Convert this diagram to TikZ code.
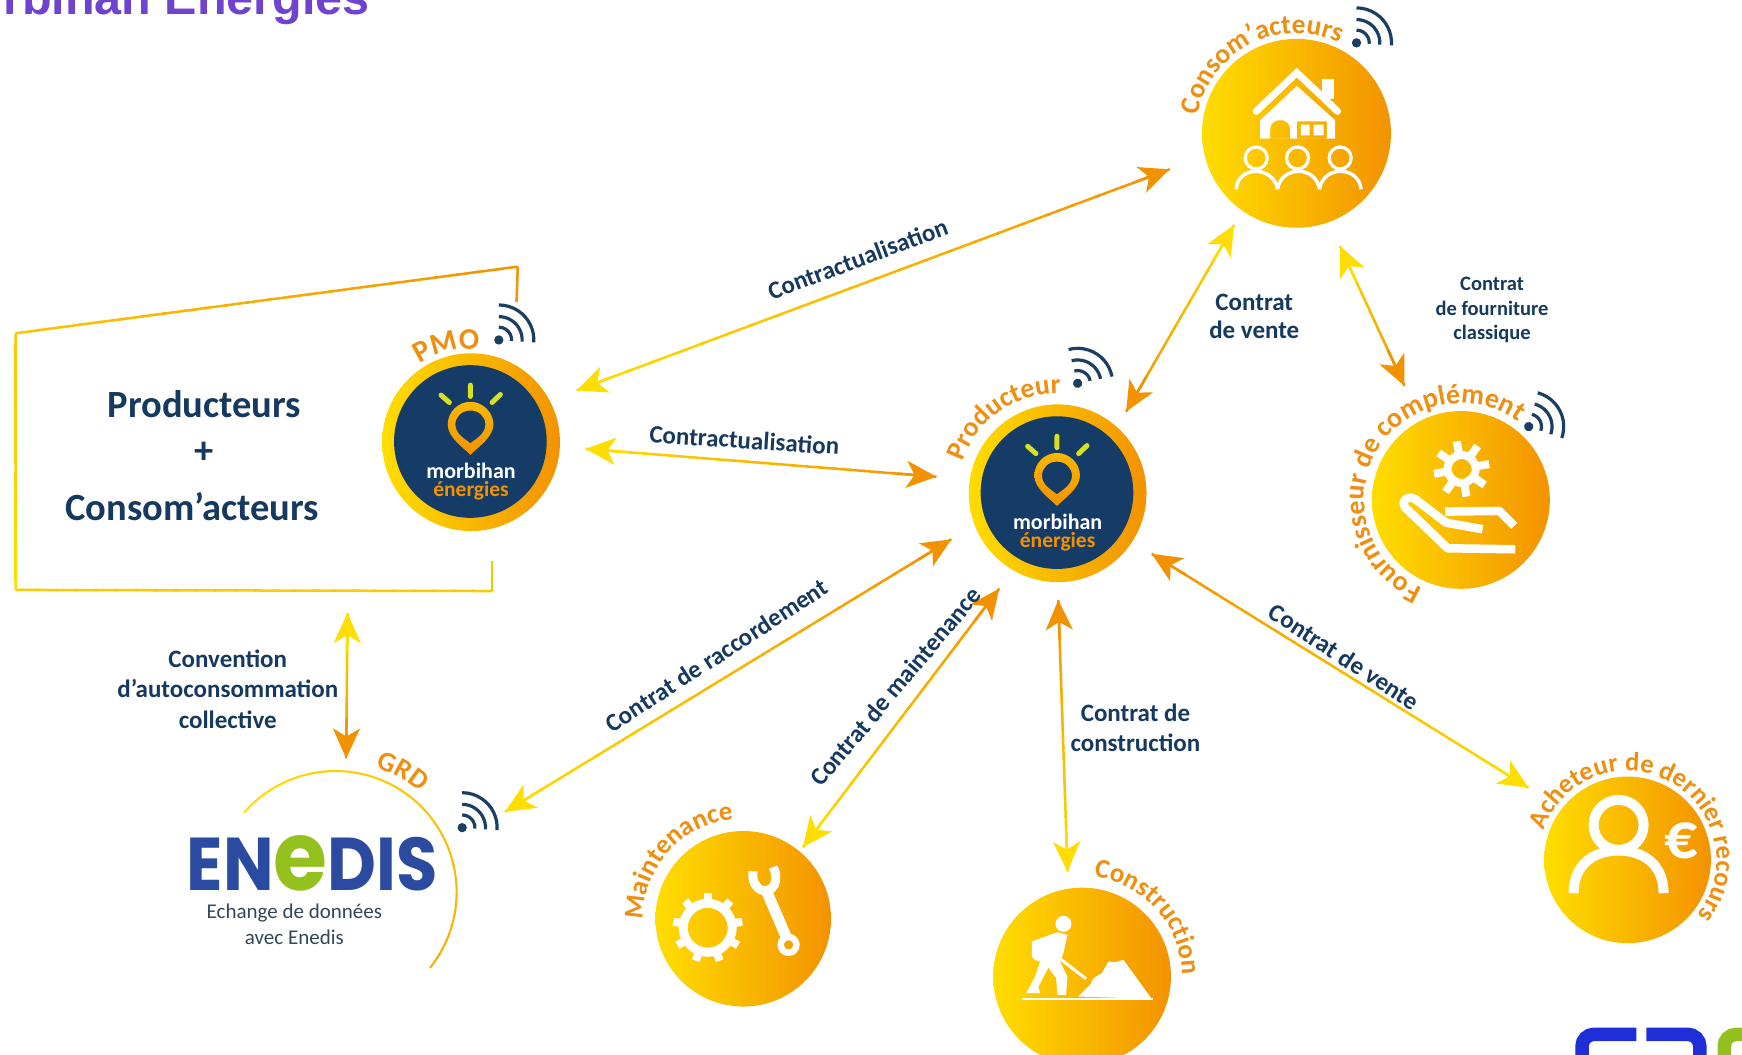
\documentclass[tikz,border=0pt]{standalone}
\usepackage{fontspec}
\usepackage{graphicx}
\setmainfont{Carlito}
\newfontfamily\titlefont{Liberation Sans}
\newfontfamily\logofont{Poppins}
\usetikzlibrary{calc,arrows.meta,decorations.text}
\definecolor{gyellow}{HTML}{FFDD00}
\definecolor{gorange}{HTML}{F39200}
\definecolor{navy}{HTML}{16395F}
\definecolor{logonavy}{HTML}{143C66}
\definecolor{labelorange}{HTML}{EE8F12}
\definecolor{wificol}{HTML}{1B3F63}
\definecolor{raycol}{HTML}{D9E021}
\definecolor{titlepurple}{HTML}{6F42D0}
\definecolor{enblue}{HTML}{2A4B9F}
\definecolor{engreen}{HTML}{95C11F}
\definecolor{logoblue}{HTML}{1F2FD8}
\definecolor{logogreen}{HTML}{93C01F}
\definecolor{greytext}{HTML}{33475B}
\tikzset{
  goldcircle/.style={circle,inner sep=0pt,outer sep=0pt,left color=gyellow,right color=gorange,draw=none},
  ghost/.style={circle,inner sep=0pt,outer sep=0pt,draw=none},
  headtip/.style={-{Stealth[length=30pt,width=27pt,inset=8pt]},line width=2.5pt},
  navylabel/.style={text=navy,font=\fontsize{25}{27.5}\selectfont\bfseries,align=center,inner sep=0pt},
  biglabel/.style={text=navy,font=\fontsize{38.5}{42}\selectfont\bfseries,inner sep=0pt},
}
\newcommand\circlenode[4]{\node[goldcircle,minimum size=2*#4*1.111pt] (#1) at (#2,-#3) {};}
\newcommand\gradline[4]{\foreach \gi in {0,...,23}{%
  \pgfmathsetmacro\gp{100-(\gi+.5)*100/24}%
  \pgfmathsetmacro\ga{\gi/24}%
  \pgfmathsetmacro\gb{min(1,(\gi+1.15)/24)}%
  \draw[line width=2.5pt,color={#3!\gp!#4}] ($(#1)!\ga!(#2)$) -- ($(#1)!\gb!(#2)$);}}
\newcommand\gradarrow[6]{%
  \coordinate (gS) at ($(#1)!#3pt!(#2)$);
  \coordinate (gE) at ($(#2)!#4pt!(#1)$);
  \gradline{gS}{gE}{#5}{#6}
  \draw[headtip,#5] ($(gS)!40pt!(gE)$) -- (gS);
  \draw[headtip,#6] ($(gE)!40pt!(gS)$) -- (gE);}
\newcommand\wifiicon[3]{\begin{scope}[shift={(#1,-#2)},rotate=#3]
  \fill[wificol] (0,0) circle[radius=4.2];
  \foreach \wr in {11.5,21,31.5}{\draw[wificol,line width=3.2pt] (-4:\wr) arc[start angle=-4,end angle=90,radius=\wr];}
  \end{scope}}
\newcommand\curvedlabel[6][27]{\path[decorate,decoration={text along path,text color=labelorange,text align=center,text={|\fontsize{#1}{#1}\selectfont\bfseries|#6}}]
  ($(#2)+(#4+#5:#3)$) arc[start angle=#4+#5,end angle=#4-#5,radius=#3];}
\newcommand\gearicon[7]{\begin{scope}[shift={(#1)},x=1pt,y=1pt,xshift=#2pt,yshift=#3pt]
  \draw[white,line width=#5pt] (0,0) circle[radius=#4];
  \foreach \gk in {1,...,#6}{\draw[white,line width=8pt] (\gk*360/#6+10:#4) -- (\gk*360/#6+10:#7);}
  \end{scope}}
\newcommand\morbilogo[1]{\begin{scope}[shift={(#1)}]\begin{scope}[x=1pt/3,y=-1pt/3,shift={(-325,-375)}]
  \fill[logonavy] (323,373) circle[radius=229];
  \draw[raycol,line width=5pt,line cap=round] (323,204) -- (323,238) (235,234) -- (260,256) (413,232) -- (388,256);
  \shade[top color=gyellow!50!gorange,bottom color=gorange,even odd rule]
    (323,413) .. controls (300,390) and (255,360) .. (255,322) .. controls (255,285) and (286,254) .. (323,254) .. controls (360,254) and (392,285) .. (392,322) .. controls (392,360) and (346,390) .. (323,413) -- cycle
    (323,378) .. controls (306,365) and (278,350) .. (278,322) .. controls (278,298) and (298,280) .. (323,280) .. controls (348,280) and (368,298) .. (368,322) .. controls (368,350) and (340,365) .. (323,378) -- cycle;
  \node[white,font=\fontsize{22}{22}\selectfont\bfseries,inner sep=0pt] at (325,460) {morbihan};
  \node[gorange,font=\fontsize{21.5}{21.5}\selectfont\bfseries,inner sep=0pt] at (325,520) {énergies};
  \end{scope}\end{scope}}
\begin{document}
\begin{tikzpicture}[x=1.11097pt,y=1.11097pt]
\useasboundingbox (0,0) rectangle (1568,-949.6);
\clip (0,0) rectangle (1568,-949.6);
\fill[white] (0,0) rectangle (1568,-949.6);

% title
\node[anchor=base east,inner sep=0pt,text=titlepurple,font=\fontsize{48.5}{48.5}\selectfont\titlefont\bfseries] (title) at (333,-13.5) {rbihan Energies};

% circles
\circlenode{pmo}{424}{398}{80}
\circlenode{prod}{952}{444}{80}
\circlenode{cons}{1167}{120}{85}
\circlenode{four}{1315}{450}{80}
\circlenode{maint}{669}{827}{79}
\circlenode{constr}{974}{879}{80}
\circlenode{ach}{1465}{774}{75}
\node[ghost,minimum size=2*109*1.111pt] (grd) at (302,-803) {};

\morbilogo{pmo}
\morbilogo{prod}

% frame
\coordinate (fa) at (14,-300);
\coordinate (fb) at (466,-240);
\coordinate (fc) at (465,-272);
\coordinate (fd) at (14,-531);
\coordinate (fe) at (443,-532);
\coordinate (ff) at (443,-505);
\gradline{fa}{fb}{gyellow!70!gorange}{gorange}
\gradline{fb}{fc}{gorange}{gorange}
\gradline{fa}{fd}{gyellow!70!gorange}{gyellow}
\gradline{fd}{fe}{gyellow}{gyellow!75!gorange}
\gradline{fe}{ff}{gyellow!75!gorange}{gyellow!75!gorange}

% GRD arc
\foreach \gi in {0,...,23}{
  \pgfmathsetmacro\aa{139-\gi*177/24}
  \pgfmathsetmacro\ab{139-(\gi+1.1)*177/24}
  \pgfmathsetmacro\gp{100-\gi*4}
  \draw[line width=2pt,color={gyellow!\gp!gorange!70!gyellow}] ($(grd)+(\aa:109)$) arc[start angle=\aa,end angle=\ab,radius=109];
}

% connectors
\gradarrow{pmo.28.7}{cons.194.6}{29}{37.6}{gyellow}{gorange}
\gradarrow{pmo.-3.9}{prod.171.6}{25.8}{33.5}{gyellow}{gorange}
\gradarrow{prod.48.4}{cons.235.2}{18}{16.5}{gorange}{gyellow}
\gradarrow{cons.290.4}{four.117}{26.4}{38.3}{gyellow}{gorange}
\gradarrow{prod.201.9}{grd.22.9}{27.2}{67}{gorange}{gyellow}
\gradarrow{prod.240.9}{maint.50.8}{23}{5.4}{gorange}{gyellow}
\gradarrow{prod.270}{constr.99.7}{17.8}{17.1}{gorange}{gyellow}
\gradarrow{prod.327.6}{ach.142}{23}{39.3}{gorange}{gyellow}
\coordinate (frameS) at (313,-532);
\gradarrow{frameS}{grd.85}{22}{13}{gyellow}{gorange}

% wifi
\wifiicon{1221}{38.6}{0}
\wifiicon{449}{306}{0}
\wifiicon{970}{345}{15}
\wifiicon{1376}{384}{-15}
\wifiicon{416}{745}{0}

% labels
\node[navylabel,rotate=20.5] (l1) at (772,-233) {Contractualisation};
\node[navylabel,rotate=-3.7] (l2) at (670,-396) {Contractualisation};
\node[navylabel] (l3) at (1129,-285) {Contrat\\de vente};
\node[navylabel,font=\fontsize{20.5}{24.5}\selectfont\bfseries] (l4) at (1343,-279) {Contrat\\de fourniture\\classique};
\node[biglabel] (l5) at (184,-364) {Producteurs};
\node[biglabel] (l6) at (184,-408) {+};
\node[biglabel] (l7) at (173,-456) {Consom’acteurs};
\node[navylabel,font=\fontsize{25}{30.5}\selectfont\bfseries] (l8) at (205,-620) {Convention\\d’autoconsommation\\collective};
\node[navylabel,rotate=33] (l9) at (645,-590) {Contrat de raccordement};
\node[navylabel,rotate=50] (l10) at (806,-618) {Contrat de maintenance};
\node[navylabel,font=\fontsize{25}{30}\selectfont\bfseries] (l11) at (1022,-655) {Contrat de\\construction};
\node[navylabel,rotate=-33] (l12) at (1210,-591) {Contrat de vente};

% curved labels
\curvedlabel[27.5]{cons}{90}{117}{85}{Consom'acteurs}
\curvedlabel[30]{pmo}{84}{104}{60}{PMO}
\curvedlabel[27.5]{prod}{90}{125}{80}{Producteur}
\curvedlabel[28]{four}{87}{150}{125}{Fournisseur de complément}
\curvedlabel[28]{grd}{118}{61}{50}{GRD}
\curvedlabel[27]{maint}{90}{138}{80}{Maintenance}
\curvedlabel{constr}{90}{42}{70}{Construction}
\curvedlabel[26.5]{ach}{80}{61}{125}{Acheteur de dernier recours}

% house icon
\begin{scope}[shift={(cons)}]\begin{scope}[x=1pt/3,y=-1pt/3,shift={(-769,-404)}]
  \draw[white,line width=7pt,line cap=round] (648,338) -- (770,222) -- (892,338);
  \fill[white] (845,240) rectangle (882,300);
  \fill[white,even odd rule] (770,262) -- (885,365) -- (885,420) -- (660,420) -- (660,365) -- cycle
     (690,420) -- (690,392) .. controls (690,355) and (750,355) .. (750,392) -- (750,420) -- cycle
     (770,368) rectangle (860,420) (782,378) rectangle (808,410) (820,378) rectangle (850,410);
  \foreach \hx in {648,772,900}{\draw[white,line width=3.2pt] (\hx,478) circle[radius=33];}
  \draw[white,line width=3.5pt]
    (588,572) .. controls (592,500) and (700,500) .. (712,572)
    (712,572) .. controls (722,500) and (828,500) .. (838,572)
    (838,572) .. controls (848,500) and (955,500) .. (963,572);
\end{scope}\end{scope}

% gear + hand
\gearicon{four}{0.7}{31}{14}{8}{8}{28}
\begin{scope}[shift={(four)}]\begin{scope}[x=1pt/3,y=-1pt/3,shift={(-365,-307)}]
  \draw[white,line width=8.5pt,line join=round] (528,455) -- (325,452) -- (198,330) .. controls (180,305) and (215,290) .. (235,310) -- (320,375) -- (430,395);
  \draw[white,line width=8.5pt,line join=round] (318,342) -- (480,340) -- (525,385);
\end{scope}\end{scope}

% gear + wrench
\gearicon{maint}{-35.5}{-9}{24.5}{9}{9}{35}
\begin{scope}[shift={(maint)}]\begin{scope}[x=1pt/2.8,y=-1pt/2.8,shift={(-568,-595)}]
  \draw[white,line width=11pt] (630,510) -- (690,650);
  \draw[white,line width=9pt] (595,462) .. controls (590,520) and (640,530) .. (655,500) .. controls (662,485) and (660,465) .. (652,450);
  \draw[white,line width=6.5pt] (695,668) circle[radius=22];
\end{scope}\end{scope}

% worker
\begin{scope}[shift={(constr)}]\begin{scope}[x=1pt/3,y=-1pt/3,shift={(-306,-395)}]
  \fill[white] (250,237) circle[radius=24];
  \fill[white] (155,290) -- (232,262) -- (262,270) -- (250,325) -- (240,350) -- (262,395) -- (258,450) -- (232,450) -- (228,400) -- (205,368) -- (175,425) -- (180,445) -- (138,445) -- (165,395) -- (180,350) -- (165,345) -- (155,335) -- cycle;
  \draw[white,line width=3pt] (238,340) -- (318,402);
  \fill[white] (295,455) -- (330,420) -- (340,400) -- (365,385) -- (385,350) -- (405,352) -- (430,345) -- (515,462) -- cycle;
  \draw[white,line width=2.5pt] (125,462) -- (520,462);
\end{scope}\end{scope}

% person + euro
\begin{scope}[shift={(ach)}]\begin{scope}[x=1pt/3,y=-1pt/3,shift={(-207,-360)}]
  \draw[white,line width=10pt] (180,255) circle[radius=75];
  \draw[white,line width=10pt] (45,460) .. controls (45,370) and (110,332) .. (180,332) .. controls (250,332) and (315,370) .. (315,460);
  \node[white,font=\fontsize{66}{66}\selectfont\bfseries,inner sep=0pt] (euro) at (368,303) {€};
\end{scope}\end{scope}

% Enedis
\node[inner sep=0pt] (enedis) at (281,-777) {\resizebox{251pt}{55pt}{\logofont\bfseries\textcolor{enblue}{EN}\textcolor{engreen}{\scalebox{1.3}{e}}\textcolor{enblue}{DIS}}};
\node[text=greytext,font=\fontsize{21}{26.5}\selectfont,align=center,inner sep=0pt] (endesc) at (265,-832) {Echange de données\\avec Enedis};

% corner logo
\draw[logoblue,line width=13.5pt,rounded corners=12pt] (1473,-931) -- (1424,-931) -- (1424,-960);
\draw[logoblue,line width=13.5pt,rounded corners=12pt] (1482,-931) -- (1530,-931) -- (1530,-960);
\draw[logogreen,line width=13.5pt,rounded corners=12pt] (1552,-960) -- (1552,-931) -- (1580,-931);
\end{tikzpicture}
\end{document}
